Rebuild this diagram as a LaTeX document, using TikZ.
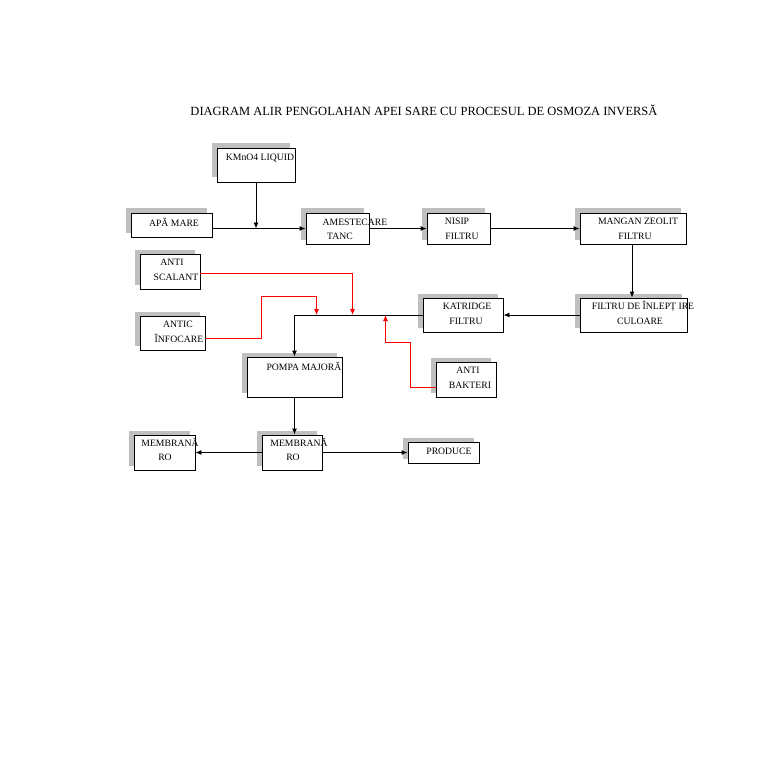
\documentclass[tikz,border=0pt]{standalone}
\usepackage{fontspec}
\setmainfont{Liberation Serif}
\usetikzlibrary{arrows.meta,shadows,calc}
\definecolor{lnred}{RGB}{255,0,0}
\tikzset{
  box/.style={draw=black, line width=0.9pt, fill=white, inner sep=0pt,
    drop shadow={shadow xshift=-5pt, shadow yshift=4.5pt, fill=black!25, opacity=1}},
  lbl/.style={inner sep=0pt, font=\fontsize{9.7}{11}\selectfont},
  arr/.style={line width=0.9pt, -{Latex[length=6pt,width=5pt]}},
  rarr/.style={line width=1pt, draw=lnred, -{Latex[length=6pt,width=5pt,fill=lnred]}}
}
\begin{document}
\begin{tikzpicture}[x=1pt,y=-1pt]
\useasboundingbox (0,0) rectangle (768,762);
\fill[white] (0,0) rectangle (768,762);
\node[inner sep=0pt, font=\fontsize{12.5}{14}\selectfont] (title) at (424,110) {DIAGRAM ALIR PENGOLAHAN APEI SARE CU PROCESUL DE OSMOZA INVERSĂ};
% boxes
\node[box, minimum width=78pt, minimum height=34pt] (kmno) at (256,165) {};
\node[box, minimum width=81pt, minimum height=24pt] (apa) at (171.5,225) {};
\node[box, minimum width=63pt, minimum height=31pt] (amest) at (337.5,228.5) {};
\node[box, minimum width=63pt, minimum height=31pt] (nisip) at (458.5,228.5) {};
\node[box, minimum width=106pt, minimum height=31pt] (mangan) at (633,228.5) {};
\node[box, minimum width=60pt, minimum height=35pt] (scal) at (170,271.5) {};
\node[box, minimum width=65pt, minimum height=34pt] (info) at (172.5,333) {};
\node[box, minimum width=80pt, minimum height=34pt] (katr) at (463,315) {};
\node[box, minimum width=107pt, minimum height=34pt] (culo) at (633.5,315) {};
\node[box, minimum width=95pt, minimum height=40pt] (pompa) at (294.5,377) {};
\node[box, minimum width=60pt, minimum height=35pt] (bakt) at (466,379.5) {};
\node[box, minimum width=61pt, minimum height=35pt] (meml) at (164.5,452.5) {};
\node[box, minimum width=60pt, minimum height=35pt] (memc) at (292,452.5) {};
\node[box, minimum width=71pt, minimum height=21pt] (prod) at (443.5,452.5) {};
% labels
\node[lbl] (t1) at (260,158) {KMnO4 LIQUID};
\node[lbl] (t2) at (174,222) {APĂ MARE};
\node[lbl] (t3) at (355,222) {AMESTECARE};
\node[lbl] (t4) at (340,236) {TANC};
\node[lbl] (t5) at (457,221) {NISIP};
\node[lbl] (t6) at (462,236) {FILTRU};
\node[lbl] (t7) at (638,221) {MANGAN ZEOLIT};
\node[lbl] (t8) at (635,236) {FILTRU};
\node[lbl] (t9) at (172,262) {ANTI};
\node[lbl] (t10) at (176,277) {SCALANT};
\node[lbl] (t11) at (178,324) {ANTIC};
\node[lbl] (t12) at (179,338) {ÎNFOCARE};
\node[lbl] (t13) at (467,306) {KATRIDGE};
\node[lbl] (t14) at (466,321) {FILTRU};
\node[lbl] (t15) at (643,306) {FILTRU DE ÎNLEPȚ IRE};
\node[lbl] (t16) at (640,321) {CULOARE};
\node[lbl] (t17) at (304,366) {POMPA MAJORĂ};
\node[lbl] (t18) at (468,370) {ANTI};
\node[lbl] (t19) at (470,385) {BAKTERI};
\node[lbl] (t20) at (170,442) {MEMBRANĂ};
\node[lbl] (t21) at (165,457) {RO};
\node[lbl] (t22) at (299,442) {MEMBRANĂ};
\node[lbl] (t23) at (293,457) {RO};
\node[lbl] (t24) at (449,451) {PRODUCE};
% connectors
\draw[arr] (apa.east |- amest.west) -- (amest.west);
\draw[arr] (kmno.south) -- (kmno.south |- amest.west);
\draw[arr] (amest.east) -- (nisip.west);
\draw[arr] (nisip.east) -- (mangan.west);
\draw[arr] ([xshift=-1pt]mangan.south) -- ([xshift=-1pt]mangan.south |- culo.north);
\draw[arr] (culo.west) -- (culo.west -| katr.east);
\coordinate (j) at (pompa.north |- katr.west);
\draw[arr] (katr.west) -- (j) -- (pompa.north);
\coordinate (p1) at ([xshift=22pt]j);
\coordinate (p2) at ([xshift=58pt]j);
\coordinate (p3) at ([xshift=91pt]j);
\coordinate (s0) at ([yshift=-1.5pt]scal.east);
\coordinate (s1) at (p2 |- s0);
\draw[rarr] (s0) -- (s1) -- (p2);
\draw[rarr] ([yshift=-5pt]info.east) -- ++(56,0) |- ([yshift=19pt]p1) -- (p1);
\draw[rarr] ([yshift=-7.5pt]bakt.west) -- ++(-25,0) |- ([yshift=-27pt]p3) -- (p3);
\draw[arr] (pompa.south) -- (pompa.south |- memc.north);
\draw[arr] (memc.west) -- (meml.east);
\draw[arr] (memc.east) -- (prod.west);
\end{tikzpicture}
\end{document}
